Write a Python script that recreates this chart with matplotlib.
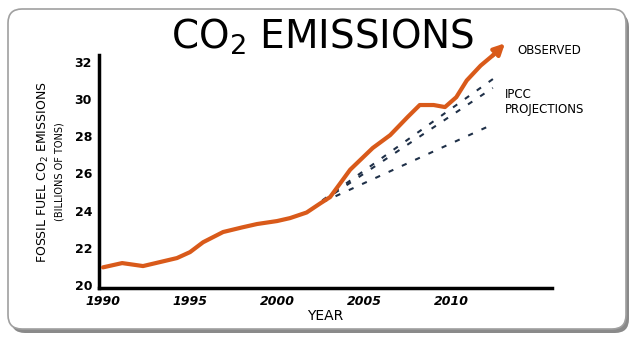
import matplotlib
matplotlib.use("Agg")
import matplotlib.pyplot as plt
from matplotlib.patches import FancyBboxPatch
from matplotlib.transforms import IdentityTransform

plt.rcParams['font.family'] = ['DejaVu Sans']
plt.rcParams['mathtext.default'] = 'regular'

# Observed emissions (billions of tons)
obs_years = [1990, 1991.1, 1992.3, 1993.3, 1994.25, 1995.0, 1995.75, 1996.9,
             1998.0, 1998.85, 2000.0, 2000.75, 2001.7, 2002.5, 2003.05, 2003.6,
             2004.2, 2004.6, 2005.5, 2006.5, 2007.5, 2008.2, 2009.0, 2009.65,
             2010.3, 2010.9, 2011.7, 2012.4]
obs_values = [20.95, 21.18, 21.02, 21.24, 21.45, 21.77, 22.3, 22.85,
              23.1, 23.28, 23.44, 23.6, 23.9, 24.4, 24.73, 25.43,
              26.2, 26.56, 27.37, 28.06, 29.03, 29.68, 29.68, 29.57,
              30.1, 31.0, 31.8, 32.35]
arrow_tip = (2013.1, 33.0)

# IPCC projections (start, end)
proj_years = [[2002.6, 2012.8], [2002.6, 2012.4], [2002.6, 2012.07]]
proj_values = [[24.55, 31.34], [24.5, 30.6], [24.45, 28.5]]

xticks = [1990, 1995, 2000, 2005, 2010]
yticks = [20, 22, 24, 26, 28, 30, 32]

W, H = 637, 340
fig = plt.figure(figsize=(W / 100, H / 100), dpi=100)
fig.patch.set_facecolor('white')

# rounded frame with shadow
shadow = FancyBboxPatch((11, 7), 618, 320, boxstyle="round,pad=0,rounding_size=14",
                        transform=IdentityTransform(), facecolor='#8a8a8a',
                        edgecolor='none', zorder=-3)
frame = FancyBboxPatch((8, 11), 618, 320, boxstyle="round,pad=0,rounding_size=14",
                       transform=IdentityTransform(), facecolor='white',
                       edgecolor='#a0a0a0', linewidth=1.2, zorder=-2)
fig.patches.extend([shadow, frame])

ax = fig.add_axes([99 / W, 52 / H, 453 / W, 233 / H])
ax.set_zorder(2)
ax.set_facecolor('none')
ax.set_xlim(1989.77, 2015.8)
ax.set_ylim(19.84, 32.37)

for s in ['top', 'right']:
    ax.spines[s].set_visible(False)
for s in ['left', 'bottom']:
    ax.spines[s].set_linewidth(2.5)
    ax.spines[s].set_color('black')

ax.set_xticks(xticks)
ax.set_yticks(yticks)
ax.tick_params(length=0, labelsize=9, pad=5)
for lab in ax.get_xticklabels():
    lab.set_fontstyle('italic')
    lab.set_fontweight('bold')
for lab in ax.get_yticklabels():
    lab.set_fontweight('bold')

ax.set_xlabel('YEAR', fontsize=10, labelpad=1)

orange = '#d95a1a'
ax.plot(obs_years, obs_values, color=orange, lw=3.0, solid_capstyle='round',
        solid_joinstyle='round', clip_on=False, zorder=3)
ax.annotate('', xy=arrow_tip, xytext=(obs_years[-1], obs_values[-1]),
            arrowprops=dict(arrowstyle='-|>', color=orange, lw=3.0,
                            mutation_scale=16, shrinkA=0, shrinkB=0),
            annotation_clip=False, zorder=3)

for xs, ys in zip(proj_years, proj_values):
    ax.plot(xs, ys, color='#1f3048', lw=1.5, dashes=(2.5, 4.5), clip_on=False, zorder=2)

ax.text(2013.8, 32.63, 'OBSERVED', fontsize=8.5, va='center', ha='left',
        clip_on=False)
ax.text(2013.1, 29.84, 'IPCC\nPROJECTIONS', fontsize=8.5, va='center', ha='left',
        linespacing=1.15, clip_on=False)

fig.text(323 / W, 1 - 37 / H, 'CO$_2$ EMISSIONS', fontsize=28, ha='center',
         va='center', zorder=3)
fig.text(43 / W, 1 - 172 / H, 'FOSSIL FUEL CO$_2$ EMISSIONS', fontsize=9,
         rotation=90, ha='center', va='center', zorder=3)
fig.text(60 / W, 1 - 172 / H, '(BILLIONS OF TONS)', fontsize=7,
         rotation=90, ha='center', va='center', zorder=3)

fig.savefig('out.png', dpi=100, facecolor='white')
